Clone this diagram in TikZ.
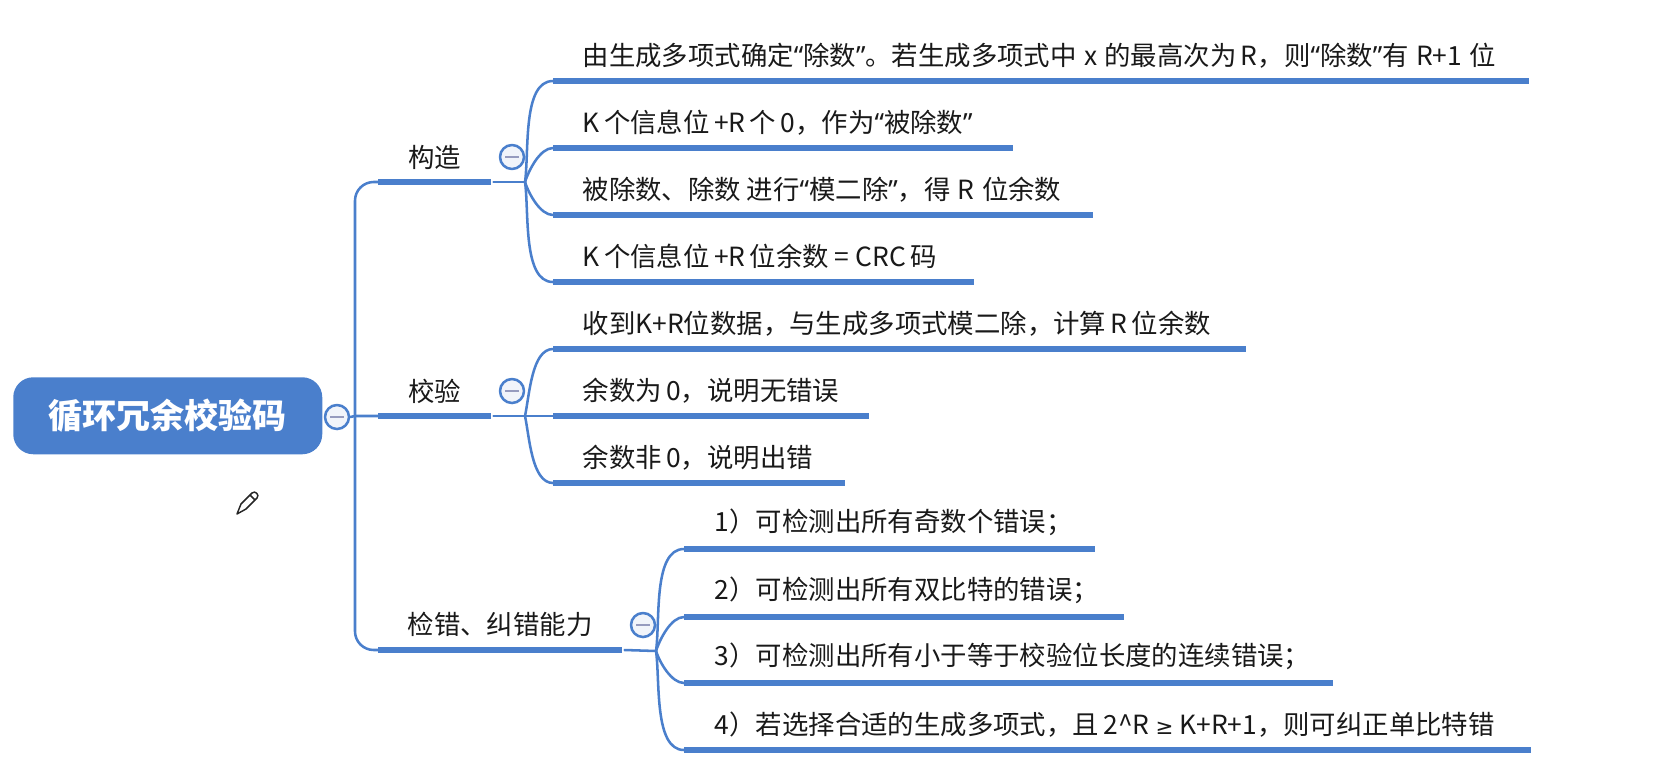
\documentclass[tikz,border=0pt]{standalone}
\usepackage{xcolor}
\usepackage{fontspec}
\usepackage{tikz}
\usetikzlibrary{positioning}
\setmainfont{Noto Sans CJK SC}
\newfontfamily\latinfont{Noto Sans}
\newfontfamily\symbolfont{DejaVu Sans}
\newcommand{\openq}{{\latinfont “}}
\newcommand{\closeq}{{\latinfont ”}}
\definecolor{mapblue}{RGB}{74,127,204}
\definecolor{foldfill}{RGB}{241,244,250}
\definecolor{foldbar}{RGB}{150,155,190}

\begin{document}
\begin{tikzpicture}[
	x=0.75pt,y=-0.75pt,
	font=\fontsize{19.8pt}{24pt}\selectfont,
	line join=round
]
\tikzset{
    rootnode/.style = {rectangle, rounded corners=15pt, fill=mapblue, text=white, anchor=north west, inner sep=0pt, minimum width=231.75pt, minimum height=57.75pt, font=\fontsize{25.5pt}{30pt}\selectfont\bfseries},
		barnode/.style = {rectangle, fill=mapblue, anchor=west, inner sep=0pt, minimum height=5pt},
		textnode/.style = {inner sep=0pt, text=black!90},
		foldnode/.style = {circle, draw=mapblue, fill=foldfill, line width=1.9pt, inner sep=0pt, minimum size=18pt},
		branch/.style = {draw=mapblue, line width=1.9pt, line cap=round},
		foldmark/.style = {draw=foldbar, line width=1.6pt},
		penline/.style = {draw=black!85, line width=1.1pt}
}
\useasboundingbox (0,0) rectangle (1662,768);

\node (root) [rootnode] at (13,377) {循环冗余校验码};
\node (foldroot) [foldnode] at (337,417) {};
\coordinate (trunk) at (355,416);

\node (make) [barnode, minimum width=84.75pt] at (378,182) {};
\node (check) [barnode, minimum width=84.75pt] at (378,416) {};
\node (ability) [barnode, minimum width=183pt] at (378,650) {};
\node (maketext) [textnode, above=6.75pt of make.north] {构造};
\node (checktext) [textnode, above=6.75pt of check.north] {校验};
\node (abilitytext) [textnode, above right=6.75pt and 22pt of ability.north west] {检错、纠错能力};

\node (foldmake) [foldnode] at (512,157) {};
\node (foldcheck) [foldnode] at (512,391) {};
\node (foldability) [foldnode] at (643,625) {};
\coordinate (jmake) at (525,182);
\coordinate (jcheck) at (525,416);
\coordinate (jability) at (656,651);

\node (m1) [barnode, minimum width=732pt] at (553,81) {};
\node (m2) [barnode, minimum width=345pt] at (553,148) {};
\node (m3) [barnode, minimum width=405pt] at (553,215) {};
\node (m4) [barnode, minimum width=315.75pt] at (553,282) {};
\node (c1) [barnode, minimum width=519.75pt] at (553,349) {};
\node (c2) [barnode, minimum width=237pt] at (553,416) {};
\node (c3) [barnode, minimum width=219pt] at (553,483) {};
\node (a1) [barnode, minimum width=308.25pt] at (684,549) {};
\node (a2) [barnode, minimum width=330pt] at (684,617) {};
\node (a3) [barnode, minimum width=486.75pt] at (684,683) {};
\node (a4) [barnode, minimum width=635.25pt] at (684,750) {};

\node (m1text) [textnode, above right=6.75pt and 22pt of m1.north west] {由生成多项式确定\openq 除数\closeq 。若生成多项式中\;x\;的最高次为\,R，则\openq 除数\closeq 有\;R+1\;位};
\node (m2text) [textnode, above right=6.75pt and 22pt of m2.north west] {K\,个信息位\,+R\,个\,0，作为\openq 被除数\closeq};
\node (m3text) [textnode, above right=6.75pt and 22pt of m3.north west] {被除数、除数 进行\openq 模二除\closeq ，得\;R\;位余数};
\node (m4text) [textnode, above right=6.75pt and 22pt of m4.north west] {K\,个信息位\,+R\,位余数 = CRC\,码};
\node (c1text) [textnode, above right=6.75pt and 22pt of c1.north west] {收到K+R位数据，与生成多项式模二除，计算\,R\,位余数};
\node (c2text) [textnode, above right=6.75pt and 22pt of c2.north west] {余数为\,0，说明无错误};
\node (c3text) [textnode, above right=6.75pt and 22pt of c3.north west] {余数非\,0，说明出错};
\node (a1text) [textnode, above right=6.75pt and 23pt of a1.north west] {1）可检测出所有奇数个错误；};
\node (a2text) [textnode, above right=6.75pt and 23pt of a2.north west] {2）可检测出所有双比特的错误；};
\node (a3text) [textnode, above right=6.75pt and 23pt of a3.north west] {3）可检测出所有小于等于校验位长度的连续错误；};
\node (a4text) [textnode, above right=6.75pt and 23pt of a4.north west] {4）若选择合适的生成多项式，且\,2\textasciicircum R {\symbolfont\fontsize{16pt}{24pt}\selectfont ≥} K+R+1，则可纠正单比特错};

\draw[branch] (foldroot.east) -- (trunk) -- (check.west);
\draw[branch, rounded corners=14pt] (make.west) -| (trunk) |- (ability.west);
\draw[branch] (make.east) ++(1.5pt,0) -- (jmake);
\draw[branch] (check.east) ++(1.5pt,0) -- (jcheck);
\draw[branch] (ability.east) ++(1.5pt,0) -- (jability);

\draw[branch] (jmake) to[out=82,in=180,looseness=0.75] (m1.west);
\draw[branch] (jmake) to[out=72,in=180,looseness=0.75] (m2.west);
\draw[branch] (jmake) to[out=-72,in=180,looseness=0.75] (m3.west);
\draw[branch] (jmake) to[out=-82,in=180,looseness=0.75] (m4.west);
\draw[branch] (jcheck) to[out=78,in=180,looseness=0.75] (c1.west);
\draw[branch] (jcheck) -- (c2.west);
\draw[branch] (jcheck) to[out=-78,in=180,looseness=0.75] (c3.west);
\draw[branch] (jability) to[out=82,in=180,looseness=0.75] (a1.west);
\draw[branch] (jability) to[out=72,in=180,looseness=0.75] (a2.west);
\draw[branch] (jability) to[out=-72,in=180,looseness=0.75] (a3.west);
\draw[branch] (jability) to[out=-82,in=180,looseness=0.75] (a4.west);

\draw[foldmark] ([xshift=-5pt]foldroot.center) -- ([xshift=5pt]foldroot.center);
\draw[foldmark] ([xshift=-5pt]foldmake.center) -- ([xshift=5pt]foldmake.center);
\draw[foldmark] ([xshift=-5pt]foldcheck.center) -- ([xshift=5pt]foldcheck.center);
\draw[foldmark] ([xshift=-5pt]foldability.center) -- ([xshift=5pt]foldability.center);

\draw[penline] (237,514) -- (241,504) -- (252,493) .. controls (255,490) and (260,495) .. (257,498) -- (246,509) -- cycle;
\draw[penline] (250,495) -- (255,500);
\end{tikzpicture}
\end{document}
